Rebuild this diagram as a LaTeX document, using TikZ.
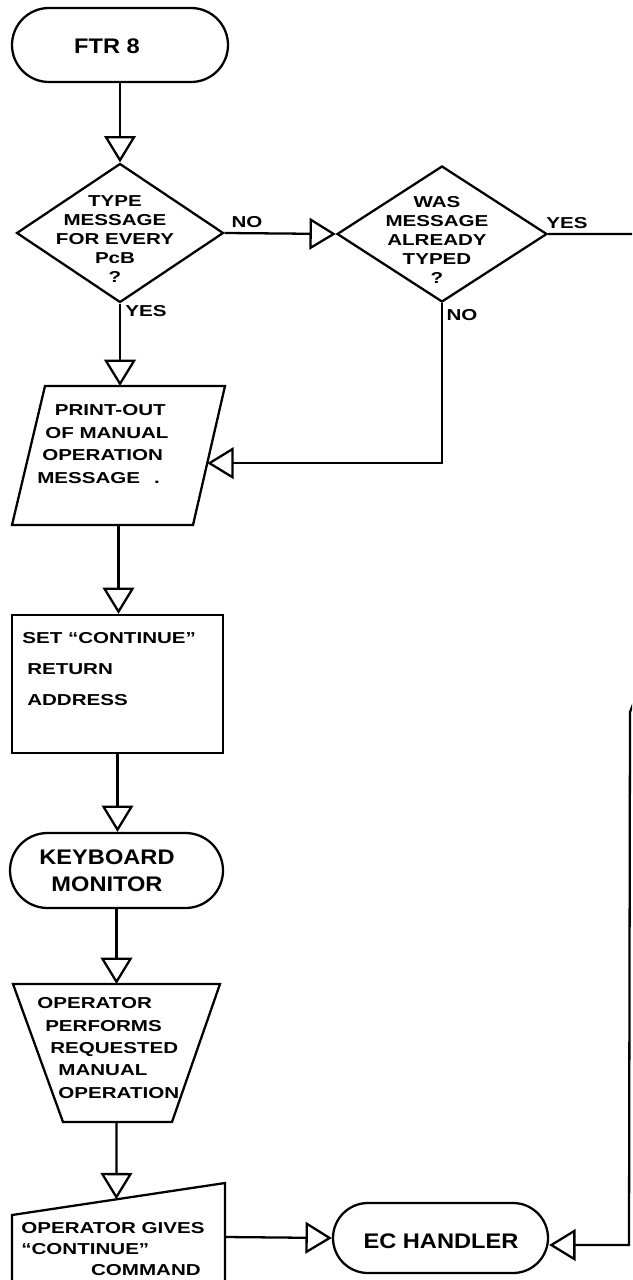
\documentclass[tikz,border=0pt]{standalone}
\usepackage{fontspec}
\newfontfamily\hand[FakeStretch=1.3]{Liberation Sans Bold}
\newfontfamily\handT[FakeStretch=1.12]{Liberation Sans Bold}
\usetikzlibrary{shapes.geometric,shapes.misc,arrows.meta,calc}

\begin{document}
\begin{tikzpicture}[x=0.02cm,y=-0.02cm,
  outline/.style={draw, line width=1.3pt},
  boxw/.style={minimum width=#1*0.02cm},
  boxh/.style={minimum height=#1*0.02cm},
  frame/.style={inner sep=0pt, outer sep=0pt},
  term/.style={outline, rounded rectangle, inner sep=0pt},
  decision/.style={outline, diamond, inner sep=0pt},
  flow/.style={line width=1.3pt, -{Triangle[open, length=15pt, width=18pt]}},
  txt/.style={inner sep=0pt, font=\hand\fontsize{9}{#1}\selectfont},
  ttxt/.style={inner sep=0pt, font=\handT\fontsize{12}{15.3}\selectfont},
]
\clip (0,0) rectangle (632,1280);
\fill[white] (0,0) rectangle (632,1280);

% ---- shapes ----
\node[term, boxw=216, boxh=74] (ftr) at (120,45) {};
\node[decision, boxw=207, boxh=139] (d1) at (120,233) {};
\node[decision, boxw=210, boxh=136] (d2) at (442,234) {};

% input/output parallelogram, leaning right
\node[frame, boxw=213, boxh=139] (p) at (118.5,455.5) {};
\coordinate (ptl) at ($(p.north west)+(33,0)$);
\coordinate (pbr) at ($(p.south east)+(-32,0)$);
\draw[outline] (p.south west) -- (ptl) -- (p.north east) -- (pbr) -- cycle;

\node[outline, rectangle, inner sep=0pt, boxw=211, boxh=138] (set) at (117.5,684) {};
\node[term, boxw=213, boxh=75] (kb) at (116.5,870.5) {};

% manual operation (trapezoid, wide side up)
\node[frame, boxw=207, boxh=138] (op) at (116.5,1053) {};
\coordinate (opbl) at ($(op.south west)+(50,0)$);
\coordinate (opbr) at ($(op.south east)+(-48,0)$);
\draw[outline] (op.north west) -- (op.north east) -- (opbr) -- (opbl) -- cycle;

% manual input (sloped top)
\node[frame, boxw=213, boxh=108] (mi) at (118.5,1237) {};
\coordinate (mitl) at ($(mi.north west)+(0,32)$);
\draw[outline] (mi.south west) -- (mitl) -- (mi.north east) -- (mi.south east) -- cycle;

\node[term, boxw=215, boxh=70] (ec) at (440.5,1238) {};

% ---- texts ----
\node[ttxt] (ftrT) at (107,46) {FTR 8};
\node[txt=10.8pt, align=center] (d1T) at (115,239) {TYPE\\MESSAGE\\FOR EVERY\\PcB\\?};
\node[txt=10.8pt, align=center] (d2T) at (437,240) {WAS\\MESSAGE\\ALREADY\\TYPED\\?};
\node[txt=11pt] (no1) at (247,222) {NO};
\node[txt=11pt] (yes2) at (567,223) {YES};
\node[txt=11pt] (no2) at (462,315) {NO};
\node[txt=11pt] (yes1) at (146,311) {YES};
\node[txt=12.75pt, align=left, anchor=west] (pT) at (37,444)
  {\hspace*{10pt}PRINT-OUT\\\hspace*{4.5pt}OF MANUAL\\\hspace*{2.8pt}OPERATION\\MESSAGE\hspace{8pt}.};
\node[txt=17.6pt, align=left, anchor=west] (setT) at (22,669)
  {SET “CONTINUE”\\\hspace*{2.8pt}RETURN\\\hspace*{2.8pt}ADDRESS};
\node[ttxt, align=center] (kbT) at (107,871) {KEYBOARD\\MONITOR};
\node[txt=12.75pt, align=left, anchor=west] (opT) at (37,1048)
  {OPERATOR\\\hspace*{4.5pt}PERFORMS\\\hspace*{7.4pt}REQUESTED\\\hspace*{12pt}MANUAL\\\hspace*{12pt}OPERATION};
\node[txt=11.9pt, align=left, anchor=west] (miT) at (21,1249)
  {OPERATOR GIVES\\“CONTINUE”\\\hspace*{39.7pt}COMMAND};
\node[ttxt] (ecT) at (441,1241) {EC HANDLER};

% ---- connectors ----
\coordinate (pin) at ($(p.north east)!0.555!(pbr)$);
\coordinate (mitop) at ($(mitl)!0.49!(mi.north east)$);
\coordinate (r1) at (634,234);
\coordinate (r2) at (634,702);
\coordinate (r3) at (630,712);
\coordinate (r4) at (629,1245);

\draw[flow] (ftr.south) -- (ftr.south |- d1.north);
\draw[flow] (d1.east) -- (d2.west);
\draw[flow] (d1.south) -- (d1.south |- p.north);
\draw[flow] (d2.south) |- (pin);
\draw[flow] (p.south) -- (p.south |- set.north);
\draw[flow] (set.south) -- (set.south |- kb.north);
\draw[flow] (kb.south) -- (kb.south |- op.north);
\draw[flow] (op.south) -- (mitop);
\draw[flow] (mi.east) -- (ec.west);
\draw[flow] (d2.east) -- (r1) -- (r2) -- (r3) -- (r4) -- (r4 -| ec.east);
\end{tikzpicture}
\end{document}
